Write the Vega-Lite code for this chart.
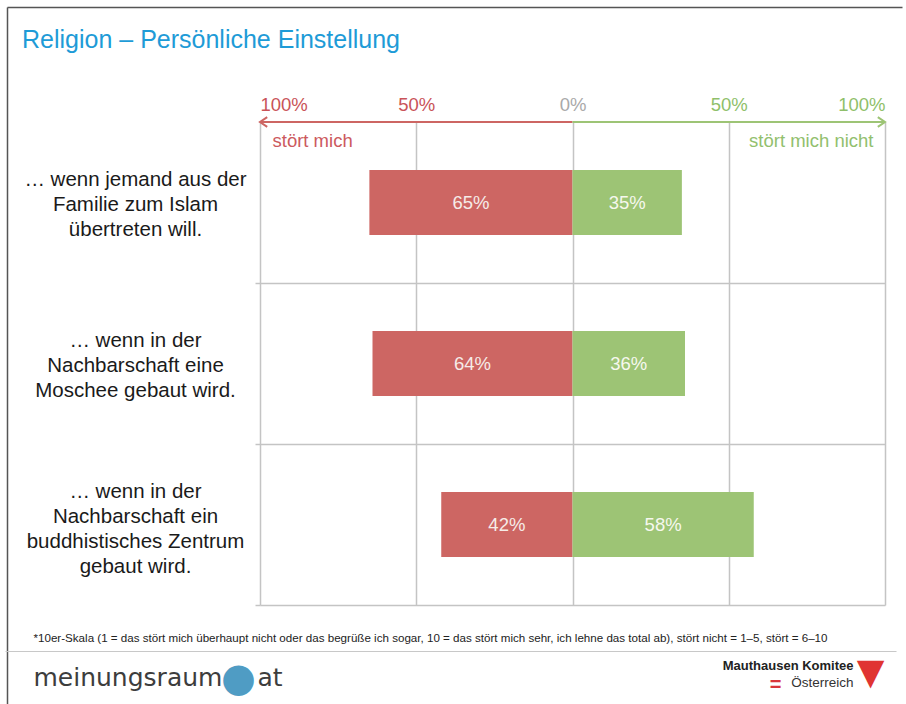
{
  "$schema": "https://vega.github.io/schema/vega-lite/v6.json",
  "width": 625,
  "height": 483,
  "autosize": {"type": "none"},
  "padding": {"left": 260, "top": 122, "right": 21, "bottom": 99},
  "background": "white",
  "config": {
    "view": {"stroke": null},
    "font": "Liberation Sans",
    "axis": {"titleFontWeight": "normal", "titleLimit": 3000, "labelLimit": 400, "titleFont": "Liberation Sans", "labelFont": "Liberation Sans"}
  },
  "title": {
    "text": "Religion – Persönliche Einstellung",
    "anchor": "start",
    "frame": "group",
    "dx": -238,
    "offset": 0,
    "dy": 47,
    "fontSize": 25,
    "fontWeight": "normal",
    "font": "Liberation Sans",
    "color": "#1e9bd7",
    "limit": 2000
  },
  "data": {
    "values": [
      {"frage": "… wenn jemand aus der|Familie zum Islam|übertreten will.", "seite": "stört mich", "wert": -65, "anteil": 0.65},
      {"frage": "… wenn jemand aus der|Familie zum Islam|übertreten will.", "seite": "stört mich nicht", "wert": 35, "anteil": 0.35},
      {"frage": "… wenn in der|Nachbarschaft eine|Moschee gebaut wird.", "seite": "stört mich", "wert": -64, "anteil": 0.64},
      {"frage": "… wenn in der|Nachbarschaft eine|Moschee gebaut wird.", "seite": "stört mich nicht", "wert": 36, "anteil": 0.36},
      {"frage": "… wenn in der|Nachbarschaft ein|buddhistisches Zentrum|gebaut wird.", "seite": "stört mich", "wert": -42, "anteil": 0.42},
      {"frage": "… wenn in der|Nachbarschaft ein|buddhistisches Zentrum|gebaut wird.", "seite": "stört mich nicht", "wert": 58, "anteil": 0.58}
    ]
  },
  "resolve": {"axis": {"x": "independent", "y": "independent"}},
  "layer": [
    {
      "transform": [{"filter": "datum.seite === 'stört mich'"}],
      "mark": {"type": "bar", "height": {"band": 0.405}},
      "encoding": {
        "x": {
          "field": "wert", "type": "quantitative", "stack": "zero",
          "scale": {"domain": [-100, 100], "nice": false},
          "axis": {
            "orient": "top", "values": [-100, -50, 0, 50, 100],
            "labelExpr": "abs(datum.value) + '%'", "labelFlush": true, "labelOverlap": false,
            "labelFontSize": 18.5, "labelPadding": 8,
            "labelColor": {"condition": [{"test": "datum.value < 0", "value": "#c95358"}, {"test": "datum.value == 0", "value": "#a9a9a9"}], "value": "#8fbf6a"},
            "ticks": false, "tickSize": 0, "domain": false,
            "grid": true, "gridColor": "#c4c4c4", "gridWidth": 1.5,
            "title": "stört mich", "titleX": 12, "titleY": 18, "titleAlign": "left", "titleBaseline": "middle",
            "titleColor": "#cc5a5e", "titleFontSize": 18.5
          }
        },
        "y": {
          "field": "frage", "type": "nominal", "sort": null,
          "scale": {"paddingInner": 0, "paddingOuter": 0},
          "axis": {
            "orient": "left", "labelExpr": "split(datum.label, '|')",
            "labelAlign": "center", "labelBaseline": "middle", "labelPadding": 125,
            "labelOffset": {"condition": {"test": "indexof(datum.label, 'buddh') >= 0", "value": -33}, "value": -23},
            "labelFontSize": 20.5, "labelLineHeight": 25, "labelColor": "#1a1a1a",
            "ticks": false, "tickSize": 0, "domain": false, "grid": false,
            "title": "meinungsraum", "titleAngle": 0, "titleX": -227, "titleY": 563,
            "titleAlign": "left", "titleBaseline": "alphabetic",
            "titleFont": "DejaVu Sans", "titleFontSize": 25, "titleColor": "#3d3d3d"
          }
        },
        "color": {
          "field": "seite", "type": "nominal",
          "scale": {"domain": ["stört mich", "stört mich nicht"], "range": ["#cd6663", "#9dc475"]},
          "legend": null
        }
      }
    },
    {
      "transform": [{"filter": "datum.seite === 'stört mich nicht'"}],
      "mark": {"type": "bar", "height": {"band": 0.405}},
      "encoding": {
        "x": {
          "field": "wert", "type": "quantitative", "stack": "zero",
          "scale": {"domain": [-100, 100], "nice": false},
          "axis": {
            "orient": "top", "labels": false, "ticks": false, "domain": false, "grid": false,
            "title": "stört mich nicht", "titleX": 613, "titleY": 18, "titleAlign": "right", "titleBaseline": "middle",
            "titleColor": "#92c06e", "titleFontSize": 18.5
          }
        },
        "y": {
          "field": "frage", "type": "nominal", "sort": null,
          "scale": {"paddingInner": 0, "paddingOuter": 0},
          "axis": {
            "orient": "left", "labels": false, "domain": false,
            "grid": true, "bandPosition": 1, "gridColor": "#c4c4c4", "gridWidth": 1.5,
            "ticks": true, "tickSize": 5, "tickColor": "#c4c4c4", "tickWidth": 1.5,
            "title": "●", "titleAngle": 0, "titleX": -22, "titleY": 556,
            "titleAlign": "center", "titleBaseline": "middle",
            "titleFont": "DejaVu Sans", "titleFontSize": 40, "titleColor": "#4f9cc4"
          }
        },
        "color": {"field": "seite", "type": "nominal", "legend": null}
      }
    },
    {
      "transform": [{"filter": "datum.seite === 'stört mich'"}],
      "mark": {"type": "text", "fontSize": 18.5, "color": "#f6ece8", "baseline": "middle"},
      "encoding": {
        "x": {
          "field": "wert", "type": "quantitative", "stack": "zero", "bandPosition": 0.5,
          "scale": {"domain": [-100, 100], "nice": false},
          "axis": {
            "orient": "bottom", "labels": false, "ticks": false, "domain": false, "grid": false,
            "title": "*10er-Skala (1 = das stört mich überhaupt nicht oder das begrüße ich sogar, 10 = das stört mich sehr, ich lehne das total ab), stört nicht = 1–5, stört = 6–10",
            "titleX": -227, "titleY": 33, "titleAlign": "left", "titleBaseline": "middle",
            "titleFontSize": 11.6, "titleColor": "#222222"
          }
        },
        "y": {
          "field": "frage", "type": "nominal", "sort": null,
          "scale": {"paddingInner": 0, "paddingOuter": 0},
          "axis": {
            "orient": "left", "offset": 255, "values": ["… wenn jemand aus der|Familie zum Islam|übertreten will."],
            "bandPosition": 0, "tickOffset": 529, "tickSize": -891, "tickColor": "#c8c8c8", "tickWidth": 1.2,
            "labels": false, "domain": false, "grid": false, "ticks": true,
            "title": "Mauthausen Komitee", "titleAngle": 0, "titleX": 848, "titleY": 547,
            "titleAlign": "right", "titleBaseline": "alphabetic",
            "titleFontWeight": "bold", "titleFontSize": 13, "titleColor": "#222222"
          }
        },
        "detail": {"field": "seite"},
        "text": {"field": "anteil", "type": "quantitative", "format": ".0%"}
      }
    },
    {
      "transform": [{"filter": "datum.seite === 'stört mich nicht'"}],
      "mark": {"type": "text", "fontSize": 18.5, "color": "#f6f8ee", "baseline": "middle"},
      "encoding": {
        "x": {
          "field": "wert", "type": "quantitative", "stack": "zero", "bandPosition": 0.5,
          "scale": {"domain": [-100, 100], "nice": false},
          "axis": {
            "orient": "bottom", "labels": false, "ticks": false, "domain": false, "grid": false,
            "title": "Österreich", "titleX": 593, "titleY": 81, "titleAlign": "right", "titleBaseline": "alphabetic",
            "titleFontSize": 13.5, "titleColor": "#333333"
          }
        },
        "y": {
          "field": "frage", "type": "nominal", "sort": null,
          "scale": {"paddingInner": 0, "paddingOuter": 0},
          "axis": {
            "orient": "left", "offset": 253, "values": ["… wenn jemand aus der|Familie zum Islam|übertreten will."],
            "bandPosition": 0, "tickOffset": -115, "tickSize": -895, "tickColor": "#555555", "tickWidth": 1.5,
            "labels": false, "domain": false, "grid": false, "ticks": true,
            "title": "▼", "titleAngle": 0, "titleX": 863, "titleY": 550,
            "titleAlign": "center", "titleBaseline": "middle",
            "titleFont": "DejaVu Sans", "titleFontSize": 36, "titleColor": "#e03432"
          }
        },
        "detail": {"field": "seite"},
        "text": {"field": "anteil", "type": "quantitative", "format": ".0%"}
      }
    },
    {
      "data": {"values": [
        {"seite": "stört mich", "von": 0, "bis": -100}
      ]},
      "mark": {"type": "rule", "strokeWidth": 2},
      "encoding": {
        "x": {
          "field": "von", "type": "quantitative",
          "scale": {"domain": [-100, 100], "nice": false},
          "axis": {
            "orient": "bottom", "labels": false, "ticks": false, "domain": false, "grid": false,
            "title": "=", "titleX": 515, "titleY": 79, "titleAlign": "center", "titleBaseline": "middle",
            "titleFontWeight": "bold", "titleFontSize": 20, "titleColor": "#d9363a"
          }
        },
        "x2": {"field": "bis"},
        "y": {"value": 0},
        "color": {"field": "seite", "type": "nominal", "legend": null}
      }
    },
    {
      "data": {"values": [
        {"seite": "stört mich nicht", "von": 0, "bis": 100}
      ]},
      "mark": {"type": "rule", "strokeWidth": 2},
      "encoding": {
        "x": {
          "field": "von", "type": "quantitative",
          "scale": {"domain": [-100, 100], "nice": false},
          "axis": {
            "orient": "bottom", "labels": false, "ticks": false, "domain": false, "grid": false,
            "title": "at", "titleX": -3, "titleY": 80, "titleAlign": "left", "titleBaseline": "alphabetic",
            "titleFont": "DejaVu Sans", "titleFontSize": 25, "titleColor": "#3d3d3d"
          }
        },
        "x2": {"field": "bis"},
        "y": {"value": 0},
        "color": {"field": "seite", "type": "nominal", "legend": null}
      }
    },
    {
      "data": {"values": [
        {"seite": "stört mich", "bis": -100},
        {"seite": "stört mich nicht", "bis": 100}
      ]},
      "mark": {"type": "point", "filled": false, "strokeWidth": 2, "size": 64, "opacity": 1},
      "encoding": {
        "x": {
          "field": "bis", "type": "quantitative",
          "scale": {"domain": [-100, 100], "nice": false},
          "axis": {
            "orient": "top", "offset": 115, "values": [-100, 186.4], "tickOffset": -253,
            "tickSize": -697, "tickColor": "#555555", "tickWidth": 1.5,
            "labels": false, "ticks": true, "domain": false, "grid": false, "title": null
          }
        },
        "y": {"value": 0},
        "shape": {
          "field": "seite", "type": "nominal",
          "scale": {"domain": ["stört mich", "stört mich nicht"], "range": ["M1.8,-1.2L0,0L1.8,1.2", "M-1.8,-1.2L0,0L-1.8,1.2"]},
          "legend": null
        },
        "color": {"field": "seite", "type": "nominal", "legend": null}
      }
    }
  ]
}
